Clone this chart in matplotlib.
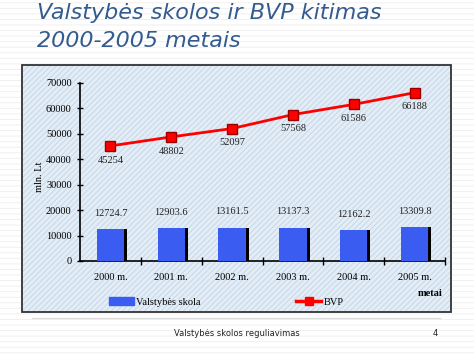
import matplotlib
matplotlib.use("Agg")
import matplotlib.pyplot as plt
from matplotlib.patches import Rectangle
from matplotlib.lines import Line2D
import numpy as np

# --- duomenys ---
metai = ["2000 m.", "2001 m.", "2002 m.", "2003 m.", "2004 m.", "2005 m."]
skola = [12724.7, 12903.6, 13161.5, 13137.3, 12162.2, 13309.8]
bvp = [45254, 48802, 52097, 57568, 61586, 66188]
skola_labels = ["12724.7", "12903.6", "13161.5", "13137.3", "12162.2", "13309.8"]
bvp_labels = ["45254", "48802", "52097", "57568", "61586", "66188"]
y_ticks = [0, 10000, 20000, 30000, 40000, 50000, 60000, 70000]

W, H = 474, 355
fig = plt.figure(figsize=(W / 100, H / 100), dpi=100)
fig.patch.set_facecolor("white")

def fx(px):
    return px / W

def fy(py):
    return 1 - py / H

# slide background stripes
plt.rcParams['hatch.linewidth'] = 0.6
fig.patches.append(Rectangle((0, 0), 1, 1, transform=fig.transFigure,
                             facecolor="white", edgecolor="#eeeeee",
                             hatch="---", lw=0, zorder=-10))

# title
title_col = "#335b8f"
fig.text(fx(37), fy(13), "Valstybės skolos ir BVP kitimas", fontsize=16,
         style="italic", color=title_col, va="center", ha="left",
         family="DejaVu Sans")
fig.text(fx(37), fy(41), "2000-2005 metais", fontsize=16,
         style="italic", color=title_col, va="center", ha="left",
         family="DejaVu Sans")

# chart box
bx0, by0, bx1, by1 = 22, 65, 451, 312
fig.patches.append(Rectangle((fx(bx0), fy(by1)), fx(bx1 - bx0), (by1 - by0) / H,
                             transform=fig.transFigure, facecolor="#e2edf7",
                             edgecolor="#c5d4e2", hatch="//////", lw=0, zorder=-5))
fig.patches.append(Rectangle((fx(bx0), fy(by1)), fx(bx1 - bx0), (by1 - by0) / H,
                             transform=fig.transFigure, facecolor="none",
                             edgecolor="#333333", lw=1.3, zorder=-4))

# axes
ax = fig.add_axes([fx(80), fy(261), fx(445 - 80), (261 - 83) / H])
ax.set_facecolor("none")
x = np.arange(len(metai))
serif = "Liberation Serif"
fs = 7.5

ax.bar(x + 0.05, skola, width=0.45, color="black", zorder=2)
ax.bar(x, skola, width=0.45, color="#3b5cf0", zorder=3)
ax.plot(x, bvp, color="#ff0000", lw=2, marker="s", markersize=7,
        markerfacecolor="#ff0000", markeredgecolor="#990000", zorder=4)

for xi, v, s in zip(x, skola, skola_labels):
    ax.annotate(s, (xi, v), xytext=(0, 8), textcoords="offset points",
                ha="center", va="bottom", fontsize=fs, family=serif, color="#222222")
for xi, v, s in zip(x, bvp, bvp_labels):
    ax.annotate(s, (xi, v), xytext=(0, -7), textcoords="offset points",
                ha="center", va="top", fontsize=fs, family=serif, color="#222222")

ax.set_xlim(-0.5, len(metai) - 0.5)
ax.set_ylim(0, 70000)
ax.set_yticks(y_ticks)
ax.set_yticklabels([str(t) for t in y_ticks], fontsize=fs, family=serif)
ax.set_xticks(x)
ax.set_xticklabels(metai, fontsize=fs, family=serif)
ax.set_xticks(np.arange(len(metai)) + 0.5, minor=True)
ax.tick_params(axis="x", which="major", length=0, pad=9)
ax.tick_params(axis="x", which="minor", length=6, direction="inout", width=1)
ax.tick_params(axis="y", length=4, direction="inout", width=1, pad=4)
for s in ["top", "right"]:
    ax.spines[s].set_visible(False)
ax.spines["left"].set_linewidth(1.2)
ax.spines["bottom"].set_linewidth(1.2)

fig.text(fx(40), fy(177), "mln. Lt", rotation=90, fontsize=fs, family=serif,
         ha="center", va="center")
fig.text(fx(430), fy(294), "metai", fontsize=fs, family=serif, weight="bold",
         ha="center", va="center")

handles = [Rectangle((0, 0), 1, 1, color="#3b5cf0"),
           Line2D([0], [0], color="#ff0000", lw=2.5, marker="s", markersize=6)]
leg = fig.legend(handles, ["Valstybės skola", "BVP"], ncol=2, loc="center",
                 bbox_to_anchor=(fx(226), fy(302)), frameon=False,
                 prop={"family": serif, "size": fs}, columnspacing=9.2,
                 handlelength=2.4, handletextpad=0.2)

# footer
fig.lines.append(Line2D([fx(32), fx(440)], [fy(318), fy(318)],
                        transform=fig.transFigure, color="#dddddd", lw=1))
fig.text(fx(237), fy(334), "Valstybės skolos reguliavimas", fontsize=6,
         ha="center", va="center", family="DejaVu Sans", color="#222222")
fig.text(fx(435), fy(334), "4", fontsize=6, ha="center", va="center",
         family="DejaVu Sans", color="#222222")

fig.savefig("out.png", dpi=100)
